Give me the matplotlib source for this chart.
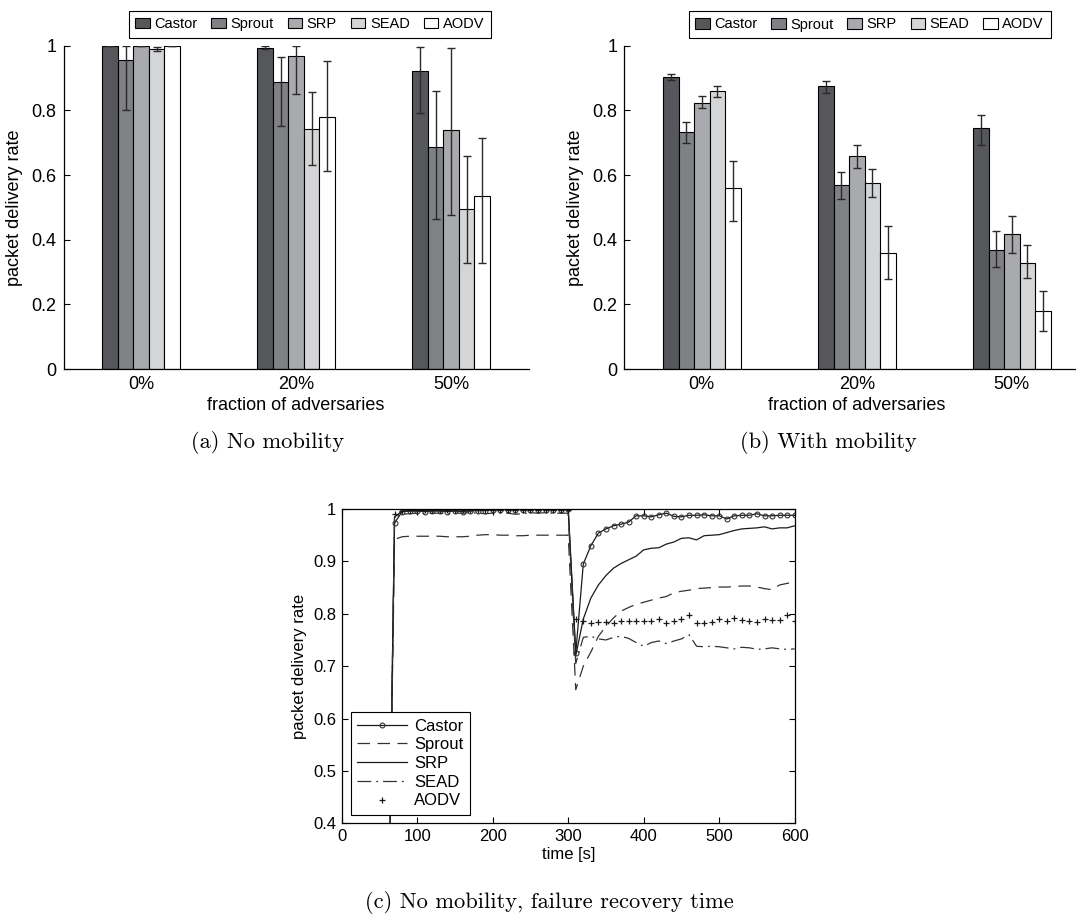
import numpy as np
import matplotlib.pyplot as plt

plt.rcParams['font.family'] = ['Liberation Sans', 'DejaVu Sans']

protocols = ['Castor', 'Sprout', 'SRP', 'SEAD', 'AODV']
groups = ['0%', '20%', '50%']
bar_colors = ['#56575a', '#808185', '#a9aaad', '#d4d5d7', '#ffffff']

# packet delivery rate, no mobility: mean, lower and upper end of the error bar
castor_a = [1.0, 0.993, 0.923]
castor_a_lo = [1.0, 0.990, 0.792]
castor_a_hi = [1.0, 1.0, 0.997]
sprout_a = [0.955, 0.887, 0.686]
sprout_a_lo = [0.800, 0.752, 0.463]
sprout_a_hi = [1.0, 0.964, 0.861]
srp_a = [1.0, 0.969, 0.738]
srp_a_lo = [1.0, 0.852, 0.475]
srp_a_hi = [1.0, 1.0, 0.994]
sead_a = [0.990, 0.741, 0.495]
sead_a_lo = [0.983, 0.630, 0.327]
sead_a_hi = [0.997, 0.857, 0.658]
aodv_a = [1.0, 0.781, 0.536]
aodv_a_lo = [1.0, 0.611, 0.327]
aodv_a_hi = [1.0, 0.952, 0.714]

# packet delivery rate, with mobility
castor_b = [0.903, 0.875, 0.744]
castor_b_lo = [0.893, 0.855, 0.693]
castor_b_hi = [0.914, 0.892, 0.785]
sprout_b = [0.732, 0.568, 0.367]
sprout_b_lo = [0.698, 0.525, 0.316]
sprout_b_hi = [0.765, 0.610, 0.426]
srp_b = [0.822, 0.658, 0.418]
srp_b_lo = [0.808, 0.623, 0.360]
srp_b_hi = [0.843, 0.693, 0.473]
sead_b = [0.859, 0.574, 0.327]
sead_b_lo = [0.842, 0.533, 0.280]
sead_b_hi = [0.874, 0.620, 0.382]
aodv_b = [0.559, 0.358, 0.180]
aodv_b_lo = [0.457, 0.278, 0.119]
aodv_b_hi = [0.644, 0.443, 0.242]

# failure recovery, sampled every 10 s from 0 to 600 s
time_s = np.arange(0, 601, 10)
castor_t = [0, 0, 0, 0, 0, 0, 0,
            0.973, 0.995, 0.996, 0.996, 0.995, 0.996, 0.996, 0.995, 0.996, 0.995, 0.996,
            0.997, 0.997, 0.998, 0.999, 0.999, 0.999, 0.999, 0.999, 0.999, 0.999, 0.999, 0.999, 1.0,
            0.725, 0.895, 0.930, 0.954, 0.962, 0.968, 0.971, 0.975, 0.987, 0.987,
            0.985, 0.989, 0.992, 0.986, 0.985, 0.988, 0.988, 0.989, 0.987, 0.987,
            0.981, 0.987, 0.988, 0.988, 0.991, 0.987, 0.987, 0.988, 0.988, 0.988]
sprout_t = [0, 0, 0, 0, 0, 0, 0,
            0.942, 0.947, 0.948, 0.948, 0.948, 0.948, 0.948, 0.947, 0.947, 0.947, 0.948, 0.950,
            0.951, 0.951, 0.950, 0.950, 0.949, 0.949, 0.950, 0.950, 0.950, 0.950, 0.950, 0.950,
            0.655, 0.700, 0.727, 0.757, 0.776, 0.792, 0.805, 0.812, 0.818, 0.822,
            0.826, 0.830, 0.833, 0.840, 0.843, 0.845, 0.848, 0.849, 0.850, 0.851,
            0.851, 0.852, 0.853, 0.853, 0.851, 0.848, 0.846, 0.855, 0.858, 0.861]
srp_t = [0, 0, 0, 0, 0, 0, 0,
         0.985, 0.996, 0.997, 0.997, 0.997, 0.997, 0.998, 0.997, 0.998, 0.998, 0.998, 0.998,
         0.999, 0.999, 0.999, 0.999, 0.999, 0.999, 0.999, 0.999, 0.999, 0.999, 0.999, 1.0,
         0.720, 0.790, 0.830, 0.855, 0.873, 0.887, 0.896, 0.903, 0.910, 0.922,
         0.925, 0.926, 0.933, 0.937, 0.944, 0.945, 0.941, 0.949, 0.950, 0.951,
         0.955, 0.959, 0.962, 0.963, 0.964, 0.966, 0.962, 0.964, 0.964, 0.968]
sead_t = [0, 0, 0, 0, 0, 0, 0,
          0.985, 0.990, 0.991, 0.992, 0.991, 0.992, 0.992, 0.991, 0.992, 0.992, 0.993, 0.992,
          0.991, 0.992, 0.993, 0.992, 0.990, 0.991, 0.993, 0.992, 0.993, 0.992, 0.992, 0.992,
          0.705, 0.755, 0.757, 0.752, 0.750, 0.755, 0.757, 0.753, 0.745, 0.738,
          0.745, 0.748, 0.743, 0.748, 0.752, 0.760, 0.738, 0.737, 0.738, 0.737,
          0.735, 0.733, 0.736, 0.735, 0.732, 0.733, 0.735, 0.733, 0.732, 0.733]
aodv_t = [0, 0, 0, 0, 0, 0, 0,
          0.990, 0.997, 0.998, 0.998, 0.998, 0.998, 0.998, 0.998, 0.998, 0.998, 0.999, 0.999,
          0.999, 0.999, 0.999, 0.999, 0.999, 0.999, 0.999, 0.999, 0.999, 0.999, 0.999, 0.999,
          0.790, 0.787, 0.782, 0.784, 0.785, 0.783, 0.787, 0.786, 0.786, 0.786,
          0.786, 0.790, 0.783, 0.787, 0.790, 0.797, 0.782, 0.783, 0.784, 0.790,
          0.786, 0.792, 0.789, 0.787, 0.785, 0.790, 0.788, 0.788, 0.797, 0.786]

W, H = 1076, 916
fig = plt.figure(figsize=(W / 100, H / 100), dpi=100)


def bar_panel(ax, means, lows, highs, legend_box):
    x = np.arange(1, len(groups) + 1)
    for i, name in enumerate(protocols):
        xs = x + (i - 2) * 0.1
        m = np.array(means[i])
        ax.bar(xs, m, 0.1, color=bar_colors[i], edgecolor='black',
               linewidth=0.8, label=name, zorder=2)
        err = [m - np.array(lows[i]), np.array(highs[i]) - m]
        ax.errorbar(xs, m, yerr=err, fmt='none', ecolor='#2a2a2a',
                    elinewidth=1.0, capsize=3, capthick=1.0, zorder=3)
    ax.set_xlim(0.5, 3.5)
    ax.set_ylim(0, 1)
    ax.set_xticks(x)
    ax.set_xticklabels(groups)
    ax.set_yticks([0, 0.2, 0.4, 0.6, 0.8, 1])
    ax.set_yticklabels(['0', '0.2', '0.4', '0.6', '0.8', '1'])
    ax.tick_params(direction='in', length=4, width=0.8, labelsize=13, pad=5)
    ax.spines['top'].set_visible(False)
    ax.spines['right'].set_visible(False)
    for s in ('left', 'bottom'):
        ax.spines[s].set_linewidth(0.9)
    ax.set_axisbelow(True)
    ax.set_xlabel('fraction of adversaries', fontsize=13, labelpad=3)
    ax.set_ylabel('packet delivery rate', fontsize=13, labelpad=6)
    leg = ax.legend(ncol=5, mode='expand', loc='center',
                    bbox_to_anchor=legend_box, bbox_transform=fig.transFigure,
                    fontsize=10.5, handlelength=1.0, handleheight=0.7,
                    handletextpad=0.3, columnspacing=0.5, borderpad=0.45,
                    fancybox=False, framealpha=1, borderaxespad=0)
    leg.get_frame().set_edgecolor('black')
    leg.get_frame().set_linewidth(0.8)


ax_a = fig.add_axes([63.5 / W, 1 - 369 / H, 465 / W, 323.3 / H])
bar_panel(ax_a,
          [castor_a, sprout_a, srp_a, sead_a, aodv_a],
          [castor_a_lo, sprout_a_lo, srp_a_lo, sead_a_lo, aodv_a_lo],
          [castor_a_hi, sprout_a_hi, srp_a_hi, sead_a_hi, aodv_a_hi],
          (128.8 / W, 1 - 38.5 / H, 362 / W, 28.5 / H))

ax_b = fig.add_axes([624.3 / W, 1 - 369 / H, 465 / W, 323.3 / H])
bar_panel(ax_b,
          [castor_b, sprout_b, srp_b, sead_b, aodv_b],
          [castor_b_lo, sprout_b_lo, srp_b_lo, sead_b_lo, aodv_b_lo],
          [castor_b_hi, sprout_b_hi, srp_b_hi, sead_b_hi, aodv_b_hi],
          (688.5 / W, 1 - 39 / H, 362 / W, 29 / H))

# recovery after the failure at t = 300 s
ax_c = fig.add_axes([341.7 / W, 1 - 823.3 / H, 453 / W, 314.3 / H])
ax_c.plot(time_s, castor_t, color='#1a1a1a', lw=0.9, marker='o', ms=3.5,
          mfc='none', mec='#333333', mew=0.8, label='Castor')
ax_c.plot(time_s, sprout_t, color='#333333', lw=0.9, ls=(0, (10, 6)), label='Sprout')
ax_c.plot(time_s, srp_t, color='#1a1a1a', lw=0.9, label='SRP')
ax_c.plot(time_s, sead_t, color='#333333', lw=0.9, ls=(0, (11, 4, 1.5, 4)), label='SEAD')
ax_c.plot(time_s, aodv_t, color='#1a1a1a', ls='none', marker='+', ms=4,
          mew=0.9, label='AODV')
ax_c.set_xlim(0, 600)
ax_c.set_ylim(0.4, 1)
ax_c.set_xticks(range(0, 601, 100))
ax_c.set_yticks([0.4, 0.5, 0.6, 0.7, 0.8, 0.9, 1])
ax_c.set_yticklabels(['0.4', '0.5', '0.6', '0.7', '0.8', '0.9', '1'])
ax_c.tick_params(direction='in', length=4, width=0.8, labelsize=12,
                 top=True, right=True, pad=4)
for s in ax_c.spines.values():
    s.set_linewidth(0.9)
ax_c.set_xlabel('time [s]', fontsize=12, labelpad=2)
ax_c.set_ylabel('packet delivery rate', fontsize=12, labelpad=4)
leg_c = ax_c.legend(loc='lower left', bbox_to_anchor=(350.7 / W, 1 - 815 / H),
                    bbox_transform=fig.transFigure, fontsize=12, numpoints=1,
                    handlelength=3.0, handletextpad=0.4, labelspacing=0.22,
                    borderpad=0.4, borderaxespad=0, fancybox=False, framealpha=1)
leg_c.get_frame().set_edgecolor('black')
leg_c.get_frame().set_linewidth(0.8)

cap = dict(family='cmr10', fontsize=16.2, ha='center', va='center')
fig.text(267.7 / W, 1 - 443 / H, '(a) No mobility', **cap)
fig.text(828 / W, 1 - 443 / H, '(b) With mobility', **cap)
fig.text(549 / W, 1 - 903 / H, '(c) No mobility, failure recovery time', **cap)

fig.savefig('out.png', dpi=100)
